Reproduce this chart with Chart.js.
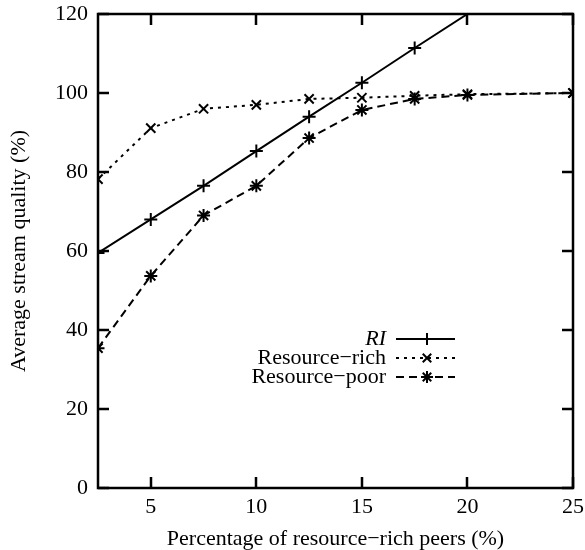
<!DOCTYPE html>
<html>
<head>
<meta charset="utf-8">
<script src="https://cdn.jsdelivr.net/npm/chart.js@4"></script>
<style>
  html, body { margin: 0; padding: 0; background: #fff; }
  #wrap { width: 585px; height: 550px; }
</style>
</head>
<body>
<div id="wrap"><canvas id="myChart" width="585" height="550"></canvas></div>
<script>
// data
const xRich = [2.5, 5, 7.5, 10, 12.5, 15, 17.5, 20, 25];
const xRI = [2.5, 5, 7.5, 10, 12.5, 15, 17.5, 20];
const riValues = [59.5, 68, 76.5, 85.3, 94, 102.6, 111.4, 120];
const richValues = [78.2, 91.1, 96, 97, 98.5, 98.8, 99.3, 99.7, 100];
const poorValues = [35.4, 53.7, 69, 76.5, 88.6, 95.7, 98.5, 99.5, 100];
const xTicks = [5, 10, 15, 20, 25];
const yTicks = [0, 20, 40, 60, 80, 100, 120];
const seriesLabels = ['RI', 'Resource\u2212rich', 'Resource\u2212poor'];

const FONT = 'Liberation Serif';
const FS = 22;

function toPoints(xs, ys) {
    return xs.map((x, i) => ({ x: x, y: ys[i] }));
}

// box + inward ticks, gnuplot style
const frame = {
    id: 'frame',
    afterDraw(chart) {
        const c = chart.ctx;
        const a = chart.chartArea;
        const xs = chart.scales.x, ys = chart.scales.y;
        c.save();
        c.strokeStyle = '#000';
        c.lineWidth = 2.5;
        c.strokeRect(a.left, a.top, a.right - a.left, a.bottom - a.top);
        c.beginPath();
        xTicks.forEach(v => {
            const px = Math.round(xs.getPixelForValue(v));
            c.moveTo(px, a.bottom); c.lineTo(px, a.bottom - 11);
            c.moveTo(px, a.top); c.lineTo(px, a.top + 11);
        });
        yTicks.forEach(v => {
            const py = Math.round(ys.getPixelForValue(v));
            c.moveTo(a.left, py); c.lineTo(a.left + 11, py);
            c.moveTo(a.right, py); c.lineTo(a.right - 11, py);
        });
        c.stroke();

        // legend inside the plot
        const rows = [339, 358, 377];
        chart.data.datasets.forEach((ds, i) => {
            const y = rows[i];
            c.font = (i === 0 ? 'italic ' : '') + FS + 'px "' + FONT + '"';
            c.fillStyle = '#000';
            c.textAlign = 'right';
            c.textBaseline = 'middle';
            c.fillText(ds.label, 386, y);
            c.lineWidth = 2;
            c.setLineDash(ds.borderDash || []);
            c.beginPath();
            c.moveTo(396, y); c.lineTo(455, y);
            c.stroke();
            c.setLineDash([]);
            Chart.helpers.drawPoint(c, {
                pointStyle: ds.pointStyle, radius: 6, rotation: 0, borderWidth: 2
            }, 427, y);
        });
        c.restore();
    }
};

const ctx = document.getElementById('myChart').getContext('2d');

const myChart = new Chart(ctx, {
    type: 'line',
    data: {
        datasets: [
            {
                label: seriesLabels[0],
                data: toPoints(xRI, riValues),
                borderColor: '#000',
                borderWidth: 2,
                pointStyle: 'cross',
                pointRadius: c => (c.raw && c.raw.y >= 120 ? 0 : 6.5),
                pointBorderColor: '#000',
                pointBorderWidth: 2
            },
            {
                label: seriesLabels[1],
                data: toPoints(xRich, richValues),
                borderColor: '#000',
                borderWidth: 2,
                borderDash: [3, 5],
                pointStyle: 'crossRot',
                pointRadius: 6.5,
                pointBorderColor: '#000',
                pointBorderWidth: 2
            },
            {
                label: seriesLabels[2],
                data: toPoints(xRich, poorValues),
                borderColor: '#000',
                borderWidth: 2,
                borderDash: [8, 5],
                pointStyle: 'star',
                pointRadius: 6.5,
                pointBorderColor: '#000',
                pointBorderWidth: 2
            }
        ]
    },
    options: {
        responsive: false,
        animation: false,
        layout: { padding: { left: 0, right: 12, top: 14, bottom: 0 } },
        scales: {
            x: {
                type: 'linear',
                min: 2.5,
                max: 25,
                afterBuildTicks: s => { s.ticks = xTicks.map(v => ({ value: v })); },
                afterFit: s => { s.height = 62; s.paddingLeft = 0; s.paddingRight = 0; },
                grid: { display: false, drawTicks: false },
                border: { display: false },
                ticks: {
                    color: '#000',
                    padding: 6,
                    maxRotation: 0,
                    font: { family: FONT, size: FS }
                },
                title: {
                    display: true,
                    text: 'Percentage of resource\u2212rich peers (%)',
                    color: '#000',
                    padding: { top: 2, bottom: 0 },
                    font: { family: FONT, size: FS, lineHeight: 1 }
                }
            },
            y: {
                min: 0,
                max: 120,
                afterBuildTicks: s => { s.ticks = yTicks.map(v => ({ value: v })); },
                afterFit: s => { s.width = 98; s.paddingTop = 0; s.paddingBottom = 0; },
                grid: { display: false, drawTicks: false },
                border: { display: false },
                ticks: {
                    color: '#000',
                    padding: 10,
                    font: { family: FONT, size: FS }
                },
                title: {
                    display: true,
                    text: 'Average stream quality (%)',
                    color: '#000',
                    padding: { top: 8, bottom: 0 },
                    font: { family: FONT, size: FS, lineHeight: 1 }
                }
            }
        },
        plugins: {
            legend: { display: false },
            tooltip: { enabled: false }
        }
    },
    plugins: [frame]
});
</script>
</body>
</html>
